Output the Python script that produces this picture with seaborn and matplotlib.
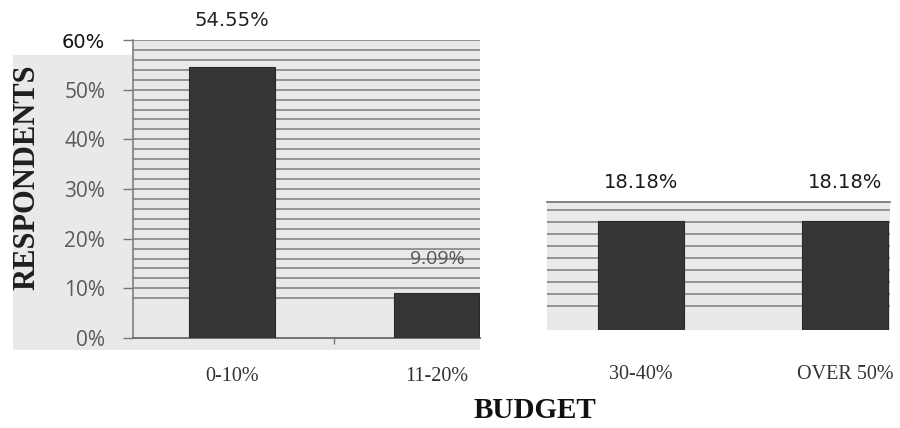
import numpy as np
import pandas as pd
import matplotlib
matplotlib.use("Agg")
import matplotlib.pyplot as plt
from matplotlib.patches import Rectangle
import seaborn as sns

# Share of respondents by budget band
left_bands = ["0-10%", "11-20%"]
left_values = [54.55, 9.09]
right_bands = ["30-40%", "OVER 50%"]
right_values = [18.18, 18.18]
y_ticks = [0, 10, 20, 30, 40, 50, 60]
y_tick_labels = ["0%", "10%", "20%", "30%", "40%", "50%", "60%"]

sns.set_theme(style="white")
plt.rcParams["font.family"] = ["DejaVu Sans"]

W, H = 900, 428
fig = plt.figure(figsize=(W / 100, H / 100), dpi=100, facecolor="white")


def box(x0, y0, x1, y1):
    """Pixel box (top-left origin) -> figure fraction rect."""
    return [x0 / W, 1 - y1 / H, (x1 - x0) / W, (y1 - y0) / H]


panel_bg = "#e9e9e9"
grid_col = "#858585"
bar_col = "#363636"

# light backdrop behind the left panel and its axis labels
fig.patches.append(Rectangle((13 / W, 1 - 350 / H), (480 - 13) / W, (350 - 55) / H,
                             transform=fig.transFigure, facecolor=panel_bg,
                             edgecolor="none", zorder=-5))

# ---- left panel -------------------------------------------------------
axL = fig.add_axes(box(133, 40, 480, 338))
axL.set_zorder(2)
axL.set_facecolor(panel_bg)
dfL = pd.DataFrame({"band": left_bands, "share": left_values})
sns.barplot(data=dfL, x="band", y="share", ax=axL, color=bar_col,
            width=0.415, saturation=1, edgecolor="#2a2a2a", linewidth=0.8, zorder=3)
axL.set_xlim(-0.483, 1.21)
axL.set_ylim(0, 60)
for lvl in np.arange(8, 61, 2):
    axL.axhline(lvl, color=grid_col, lw=1.2, zorder=1)

axL.set_yticks(y_ticks)
axL.set_yticklabels(y_tick_labels)
axL.tick_params(axis="y", direction="out", length=7, width=1, color="#777777",
                pad=13, labelsize=15, labelcolor="#5a5a5a", left=True)
for t in axL.get_yticklabels():
    t.set_fontfamily(["Open Sans", "DejaVu Sans"])
axL.get_yticklabels()[-1].set_color("#111111")
axL.get_yticklabels()[-1].set_fontfamily(["DejaVu Sans"])
axL.get_yticklabels()[-1].set_fontsize(14)

axL.set_xticks([0, 1])
axL.set_xticklabels(left_bands)
axL.set_xticks([0.5], minor=True)
axL.tick_params(axis="x", which="major", length=0, pad=21, labelsize=14.5,
                labelcolor="#333333")
axL.tick_params(axis="x", which="minor", direction="out", length=4, width=1,
                color="#777777", bottom=True)
for t in axL.get_xticklabels():
    t.set_fontfamily(["Liberation Serif"])
axL.set_xlabel("")
axL.set_ylabel("")
for side in ["top", "right"]:
    axL.spines[side].set_visible(False)
axL.spines["left"].set_color("#808080")
axL.spines["bottom"].set_color("#707070")
axL.spines["left"].set_linewidth(1.2)
axL.spines["bottom"].set_linewidth(1.4)

axL.annotate(f"{left_values[0]:.2f}%", xy=(0, 60), xytext=(0, 7),
             textcoords="offset points", ha="center", va="bottom",
             fontsize=14, color="#222222", annotation_clip=False,
             fontfamily=["DejaVu Sans"])
axL.annotate(f"{left_values[1]:.2f}%", xy=(1, left_values[1]), xytext=(0, 18),
             textcoords="offset points", ha="center", va="bottom",
             fontsize=14, color="#555555", fontfamily=["Open Sans", "DejaVu Sans"])

# ---- right panel ------------------------------------------------------
axR = fig.add_axes(box(547, 202, 890, 330))
axR.set_facecolor(panel_bg)
dfR = pd.DataFrame({"band": right_bands, "share": right_values})
sns.barplot(data=dfR, x="band", y="share", ax=axR, color=bar_col,
            width=0.42, saturation=1, edgecolor="#2a2a2a", linewidth=0.8, zorder=3)
axR.set_xlim(-0.46, 1.22)
axR.set_ylim(0, 128 / 6)
for lvl in np.arange(4, 21, 2):
    axR.axhline(lvl, color=grid_col, lw=1.2, zorder=1)
axR.set_yticks([])
axR.set_xticks([0, 1])
axR.set_xticklabels(right_bands)
axR.tick_params(axis="x", length=0, pad=25, labelsize=14.5, labelcolor="#333333")
for t in axR.get_xticklabels():
    t.set_fontfamily(["Liberation Serif"])
axR.set_xlabel("")
axR.set_ylabel("")
for side in ["left", "right", "bottom"]:
    axR.spines[side].set_visible(False)
axR.spines["top"].set_color("#707070")
axR.spines["top"].set_linewidth(1.2)
for i, v in enumerate(right_values):
    axR.annotate(f"{v:.2f}%", xy=(i, v), xytext=(0, 21),
                 textcoords="offset points", ha="center", va="bottom",
                 fontsize=14, color="#1a1a1a", annotation_clip=False,
                 fontfamily=["DejaVu Sans"])

# ---- axis titles ------------------------------------------------------
fig.text(27 / W, 1 - 177 / H, "RESPONDENTS", rotation=90, ha="center", va="center",
         fontsize=22, fontweight="bold", color="#1e1e1e",
         fontfamily=["Liberation Serif"])
fig.text(535 / W, 1 - 410 / H, "BUDGET", ha="center",
         va="center", fontsize=21, fontweight="bold", color="#111111",
         fontfamily=["Liberation Serif", "DejaVu Serif"])

fig.savefig("out.png", dpi=100, facecolor="white")
